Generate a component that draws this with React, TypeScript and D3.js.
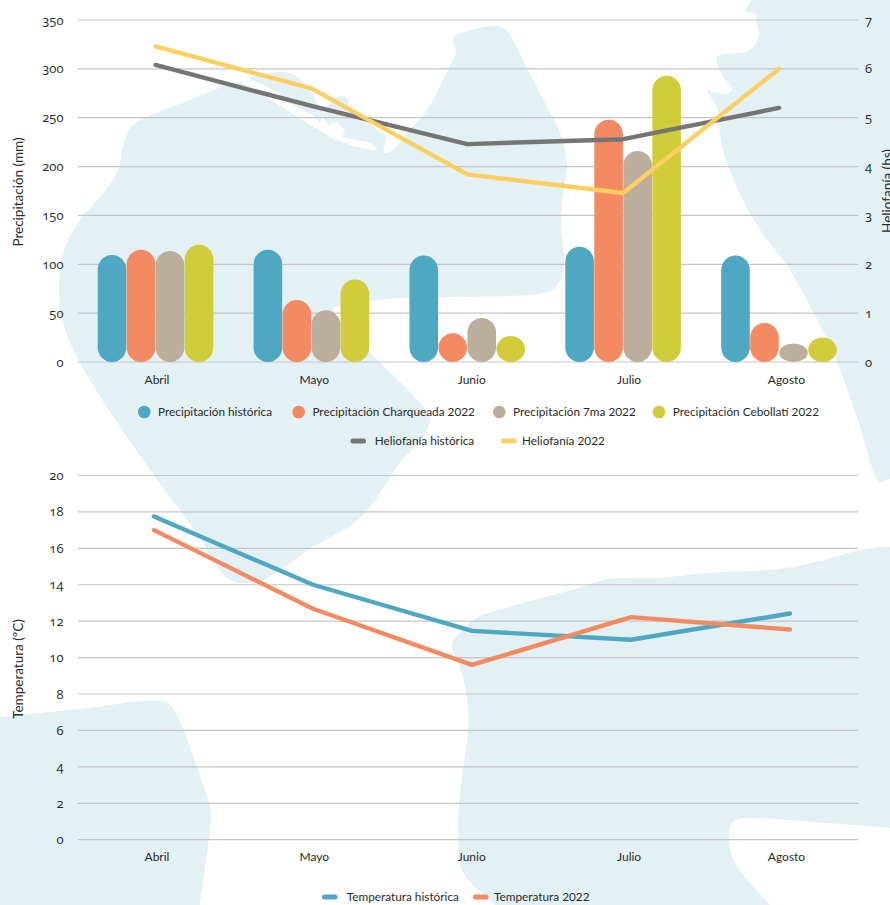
import React from 'react';
import * as d3 from 'd3';

const months = ['Abril', 'Mayo', 'Junio', 'Julio', 'Agosto'];

const precipHistorica = [109.5, 115, 109, 118, 109];
const precipCharqueada = [115, 63.5, 29.5, 248, 40];
const precip7ma = [113.5, 53, 45, 216, 19];
const precipCebollati = [120, 84.5, 26.5, 293, 25];

const helioHistorica = [6.08, 5.24, 4.46, 4.56, 5.2];
const helio2022 = [6.46, 5.6, 3.84, 3.46, 6.0];

const tempHistorica = [17.75, 14, 11.47, 10.98, 12.42];
const temp2022 = [17, 12.68, 9.6, 12.22, 11.54];

const precipTicks = [0, 50, 100, 150, 200, 250, 300, 350];
const helioTicks = [0, 1, 2, 3, 4, 5, 6, 7];
const tempTicks = [0, 2, 4, 6, 8, 10, 12, 14, 16, 18, 20];

const BLUE = '#4fa8c1';
const ORANGE = '#f48a61';
const TAN = '#bcae9c';
const GREEN = '#d1cc3a';
const GRAY = '#767575';
const YELLOW = '#fccf61';
const LAND = '#e3f0f4';
const GRID = '#c5c5c5';
const INK = '#2a2a2a';
const FONT = 'Lato, sans-serif';

const barSeries = [
  { name: 'Precipitación histórica', values: precipHistorica, color: BLUE },
  { name: 'Precipitación Charqueada 2022', values: precipCharqueada, color: ORANGE },
  { name: 'Precipitación 7ma 2022', values: precip7ma, color: TAN },
  { name: 'Precipitación Cebollatí 2022', values: precipCebollati, color: GREEN },
];

// background map, traced by hand; points past the page edge keep the curve from bending inside it
const landMain: [number, number][] = [
  [227, 85], [240, 82], [248, 78], [283, 72], [296, 76], [303, 82], [312, 93], [317, 103], [323, 112], [333, 100],
  [343, 96], [348, 100], [350, 108], [367, 120], [378, 131], [386, 136], [384, 153], [393, 150], [407, 133],
  [427, 110], [447, 72], [456, 50], [453, 38], [497, 26], [507, 31], [528, 70], [545, 103], [560, 133], [567, 163],
  [562, 200], [561, 227], [564, 260], [562, 277], [552, 290], [538, 294], [445, 297], [400, 298], [345, 305],
  [333, 309], [345, 325], [371, 353], [430, 418], [427, 430], [412, 450], [402, 460], [360, 518], [313, 547],
  [263, 580], [247, 583], [230, 580], [217, 567], [200, 538], [143, 460], [80, 363], [63, 323], [59, 293], [63, 253],
  [80, 220], [100, 197], [117, 173], [123, 147], [130, 128], [147, 117], [187, 101],
];
const riverCut: [number, number][] = [
  [240, 82], [263, 95], [287, 110], [307, 123], [330, 137], [353, 146], [377, 151], [372, 143], [342, 137],
  [345, 130], [337, 122], [328, 125], [322, 116], [320, 123], [313, 115], [297, 108], [277, 92], [263, 85], [248, 78],
];
const landEast: [number, number][] = [
  [765, -30], [752, 0], [745, 12], [755, 13], [757, 25], [759, 35], [750, 50], [738, 53], [717, 57], [722, 75], [732, 90],
  [723, 94], [708, 91], [717, 107], [720, 133], [722, 147], [735, 183], [752, 217], [765, 237], [788, 267], [812, 310],
  [835, 357], [858, 420], [880, 482], [890, 479], [960, 470], [960, -30],
];
const landSouthWest: [number, number][] = [
  [-80, 725], [0, 717], [80, 709], [160, 701], [172, 707], [197, 767], [210, 807], [211, 817], [200, 905], [190, 990], [-80, 990],
];
const landSouthEast: [number, number][] = [
  [452, 645], [458, 635], [478, 617], [495, 611], [578, 588], [608, 579], [658, 578], [705, 573], [778, 569], [812, 563],
  [852, 552], [878, 547], [890, 547], [960, 545], [960, 835], [890, 828], [812, 822], [738, 819], [732, 823], [729, 840],
  [735, 863], [770, 905], [830, 970], [540, 970], [495, 905], [475, 887], [462, 870], [458, 827], [462, 777], [468, 733],
  [468, 707], [462, 673],
];

const blob = d3.line().curve(d3.curveCatmullRomClosed.alpha(0.5));
const poly = d3.line().curve(d3.curveLinearClosed);

const GRID_LEFT = 78;
const GRID_RIGHT = 858;

const Gridlines = ({ ticks, y }: { ticks: number[]; y: (v: number) => number }) => (
  <g>
    {ticks.map(t => (
      <line key={t} x1={GRID_LEFT} x2={GRID_RIGHT} y1={y(t)} y2={y(t)} stroke={GRID} strokeWidth={1.2} />
    ))}
  </g>
);

const TickLabels = ({ ticks, y, x, anchor }: { ticks: number[]; y: (v: number) => number; x: number; anchor: string }) => (
  <g fontSize={13} fontFamily="'Open Sans', sans-serif" fill={INK} textAnchor={anchor} style={{ fontFeatureSettings: '"onum"' }}>
    {ticks.map(t => (
      <text key={t} x={x} y={y(t) + 4.5}>{t}</text>
    ))}
  </g>
);

const LegendDot = ({ x, y, color, label }: { x: number; y: number; color: string; label: string }) => (
  <g>
    <circle cx={x} cy={y} r={6.3} fill={color} />
    <text x={x + 13.7} y={y + 4} fontSize={11.8} fill={INK}>{label}</text>
  </g>
);

const LegendLine = ({ x, y, color, label, gap }: { x: number; y: number; color: string; label: string; gap: number }) => (
  <g>
    <line x1={x + 2.5} x2={x + 13} y1={y} y2={y} stroke={color} strokeWidth={5} strokeLinecap="round" />
    <text x={x + gap} y={y + 4} fontSize={11.8} fill={INK}>{label}</text>
  </g>
);

export default function App() {
  const yPrecip = d3.scaleLinear().domain([0, 350]).range([362, 20]);
  const yHelio = d3.scaleLinear().domain([0, 7]).range([362, 20]);
  const yTemp = d3.scaleLinear().domain([0, 20]).range([839.7, 475.5]);

  const xGroup = d3.scalePoint().domain(months).range([155.5, 779]);
  const xInner = d3.scaleBand().domain(barSeries.map(s => s.name)).range([-58, 58]);
  const xLabel = d3.scalePoint().domain(months).range([157, 786.5]);
  const xTemp = d3.scalePoint().domain(months).range([154, 790]);

  const helioLine = d3.line<number>()
    .x((_, i) => xGroup(months[i]) as number)
    .y(d => yHelio(d));
  const tempLine = d3.line<number>()
    .x((_, i) => xTemp(months[i]) as number)
    .y(d => yTemp(d));

  const barW = xInner.bandwidth();

  return (
    <svg width={890} height={905} style={{ position: 'absolute', left: 0, top: 0, display: 'block', background: '#fff' }} fontFamily={FONT}>
      <g fill={LAND}>
        <path d={blob(landMain) as string} />
        <path d={poly(riverCut) as string} fill="#fff" />
        <path d={blob(landEast) as string} />
        <path d={blob(landSouthWest) as string} />
        <path d={blob(landSouthEast) as string} />
      </g>

      {/* top chart */}
      <Gridlines ticks={precipTicks} y={yPrecip} />
      <TickLabels ticks={precipTicks} y={yPrecip} x={63.5} anchor="end" />
      <TickLabels ticks={helioTicks} y={yHelio} x={865} anchor="start" />
      <text transform="translate(23,192) rotate(-90)" textAnchor="middle" fontSize={13.5} fill={INK}>Precipitación (mm)</text>
      <text transform="translate(892,191) rotate(-90)" textAnchor="middle" fontSize={13.5} fill={INK}>Heliofanía (hs)</text>

      {barSeries.map(s => (
        <g key={s.name} fill={s.color}>
          {s.values.map((v, i) => (
            <rect
              key={months[i]}
              x={(xGroup(months[i]) as number) + (xInner(s.name) as number) + 0.2}
              y={yPrecip(v)}
              width={barW - 0.4}
              height={yPrecip(0) - yPrecip(v)}
              rx={barW / 2}
              ry={Math.min(barW / 2, (yPrecip(0) - yPrecip(v)) / 2)}
            />
          ))}
        </g>
      ))}

      <g fill="none" strokeWidth={4.4} strokeLinecap="round" strokeLinejoin="round">
        <path d={helioLine(helioHistorica) as string} stroke={GRAY} />
        <path d={helioLine(helio2022) as string} stroke={YELLOW} />
      </g>

      <g fontSize={12} fill={INK} textAnchor="middle">
        {months.map(m => (
          <text key={m} x={xLabel(m)} y={383.5}>{m}</text>
        ))}
      </g>

      <LegendDot x={144.3} y={412} color={BLUE} label="Precipitación histórica" />
      <LegendDot x={298.7} y={412} color={ORANGE} label="Precipitación Charqueada 2022" />
      <LegendDot x={499.3} y={412} color={TAN} label="Precipitación 7ma 2022" />
      <LegendDot x={659} y={412} color={GREEN} label="Precipitación Cebollatí 2022" />
      <LegendLine x={350.5} y={441} color={GRAY} label="Heliofanía histórica" gap={24.2} />
      <LegendLine x={501} y={441} color={YELLOW} label="Heliofanía 2022" gap={21} />

      {/* bottom chart */}
      <Gridlines ticks={tempTicks} y={yTemp} />
      <TickLabels ticks={tempTicks} y={yTemp} x={63.5} anchor="end" />
      <text transform="translate(23,669) rotate(-90)" textAnchor="middle" fontSize={13.5} fill={INK}>Temperatura (ºC)</text>

      <g fill="none" strokeWidth={4.4} strokeLinecap="round" strokeLinejoin="round">
        <path d={tempLine(tempHistorica) as string} stroke={BLUE} />
        <path d={tempLine(temp2022) as string} stroke={ORANGE} />
      </g>

      <g fontSize={12} fill={INK} textAnchor="middle">
        {months.map(m => (
          <text key={m} x={xLabel(m)} y={861}>{m}</text>
        ))}
      </g>

      <LegendLine x={322} y={897} color={BLUE} label="Temperatura histórica" gap={24.7} />
      <LegendLine x={473} y={897} color={ORANGE} label="Temperatura 2022" gap={21} />
    </svg>
  );
}
